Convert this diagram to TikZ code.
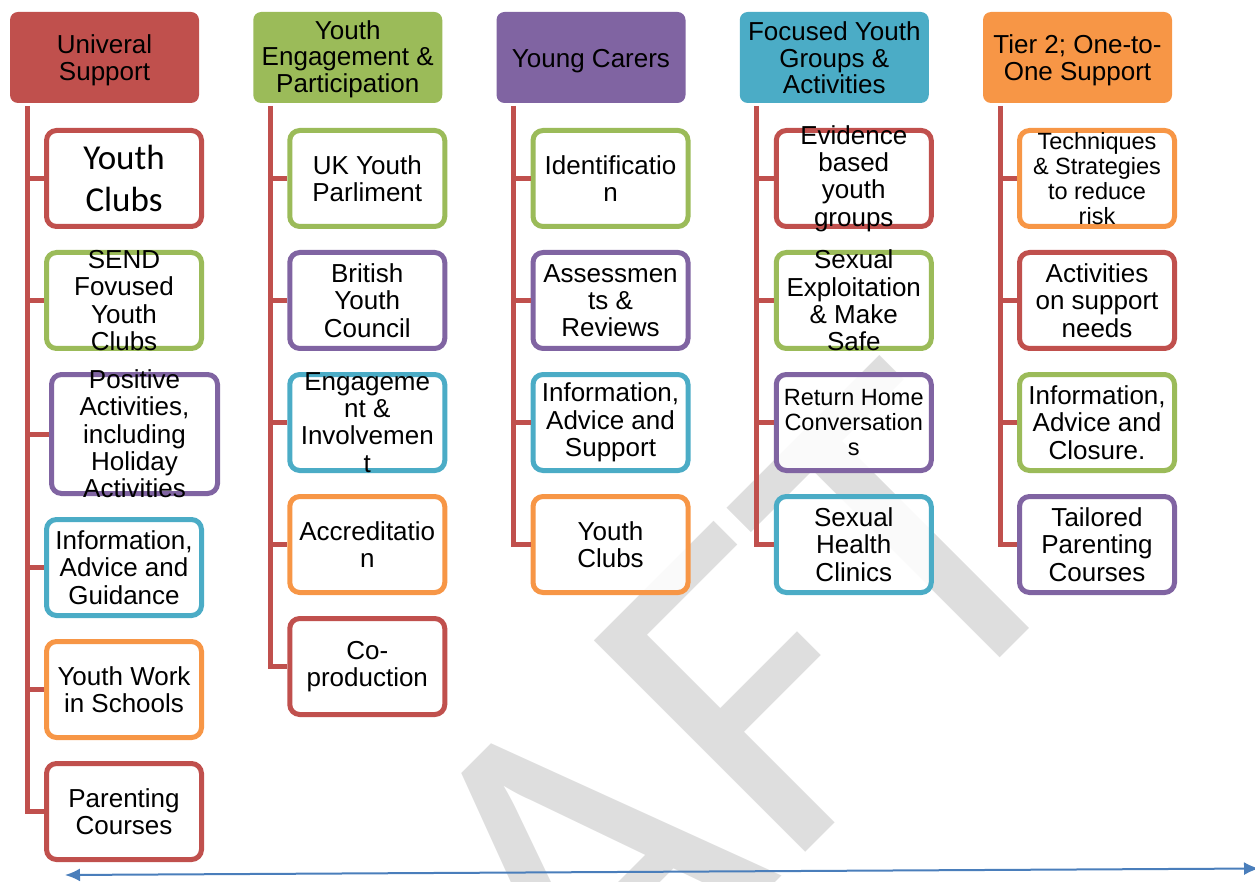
\documentclass[tikz,border=0pt]{standalone}
\usepackage{fontspec}
\setmainfont{Liberation Sans}
\newfontfamily\carlito{Carlito}
\usepackage{tikz}
\usetikzlibrary{positioning}
\usetikzlibrary{arrows.meta}

\definecolor{redc}{HTML}{C0504D}
\definecolor{greenc}{HTML}{9BBB59}
\definecolor{purplec}{HTML}{8064A2}
\definecolor{bluec}{HTML}{4BACC6}
\definecolor{orangec}{HTML}{F79646}
\definecolor{spanc}{HTML}{4A7EBB}
\definecolor{markgray}{RGB}{222,222,222}

\tikzset{
	header/.style={fill=#1, rounded corners=8pt,
		minimum width=189pt, minimum height=91pt,
		inner sep=0pt, outer sep=0pt},
	headtext/.style={align=center, inner sep=0pt,
		font=\fontsize{26}{26.5}\selectfont},
	item/.style={draw=#1, line width=5pt, rounded corners=10pt,
		fill=white, fill opacity=0.88,
		minimum width=155pt, minimum height=96pt, inner sep=0pt},
	itemtext/.style={align=center, inner sep=0pt,
		font=\fontsize{26}{27.3}\selectfont},
	smalltext/.style={align=center, inner sep=0pt,
		font=\fontsize{23.5}{25}\selectfont},
	bigtext/.style={align=center, inner sep=0pt,
		font=\carlito\fontsize{35}{42}\selectfont},
	trunk/.style={draw=redc, line width=5pt},
}

\begin{document}
\begin{tikzpicture}[x=1pt, y=-1pt]
\useasboundingbox (0,0) rectangle (1255,882);

% Watermark
\node [anchor=base west, rotate=45, inner sep=0pt, text=markgray,
	font=\carlito\fontsize{466}{466}\selectfont
] (draft_mark) at (211,1447) {DRAFT};

% Univeral support
\node [header=redc] (universal_support) at (104.5,57.5) {};
\node [headtext, yshift=-3pt] (universal_support_text) at (universal_support) {Univeral\\Support};

\node [item=redc,
	below right = 25pt and 34pt of universal_support.south west
] (youth_clubs) {};
\node [bigtext] (youth_clubs_text) at (youth_clubs) {Youth\\Clubs};

\node [item=greenc,
	below = 21pt of youth_clubs
] (send_clubs) {};
\node [itemtext] (send_clubs_text) at (send_clubs) {SEND\\Fovused\\Youth\\Clubs};

\node [item=purplec,
	minimum width=166pt,
	minimum height=119pt,
	below = 21pt of send_clubs,
	xshift=10.5pt
] (positive_activities) {};
\node [itemtext] (positive_activities_text) at (positive_activities) {Positive\\Activities,\\including\\Holiday\\Activities};

\node [item=bluec,
	below = 21pt of positive_activities,
	xshift=-10.5pt
] (info_guidance) {};
\node [itemtext] (info_guidance_text) at (info_guidance) {Information,\\Advice and\\Guidance};

\node [item=orangec,
	below = 21pt of info_guidance
] (youth_work) {};
\node [itemtext] (youth_work_text) at (youth_work) {Youth Work\\in Schools};

\node [item=redc,
	below = 21pt of youth_work
] (parenting_courses) {};
\node [itemtext] (parenting_courses_text) at (parenting_courses) {Parenting\\Courses};

% Youth engagement and participation
\node [header=greenc,
	right = 54.25pt of universal_support
] (youth_engagement) {};
\node [headtext, yshift=-1.5pt] (youth_engagement_text) at (youth_engagement) {Youth\\Engagement \&\\Participation};

\node [item=greenc,
	below right = 25pt and 34pt of youth_engagement.south west
] (uk_parliament) {};
\node [itemtext] (uk_parliament_text) at (uk_parliament) {UK Youth\\Parliment};

\node [item=purplec,
	below = 21pt of uk_parliament
] (british_council) {};
\node [itemtext] (british_council_text) at (british_council) {British\\Youth\\Council};

\node [item=bluec,
	below = 21pt of british_council
] (involvement) {};
\node [itemtext] (involvement_text) at (involvement) {Engageme\\nt \&\\Involvemen\\t};

\node [item=orangec,
	below = 21pt of involvement
] (accreditation) {};
\node [itemtext] (accreditation_text) at (accreditation) {Accreditatio\\n};

\node [item=redc,
	below = 21pt of accreditation
] (coproduction) {};
\node [itemtext] (coproduction_text) at (coproduction) {Co-\\production};

% Young carers
\node [header=purplec,
	right = 54.25pt of youth_engagement
] (young_carers) {};
\node [headtext, yshift=-4pt] (young_carers_text) at (young_carers) {Young Carers};

\node [item=greenc,
	below right = 25pt and 34pt of young_carers.south west
] (identification) {};
\node [itemtext] (identification_text) at (identification) {Identificatio\\n};

\node [item=purplec,
	below = 21pt of identification
] (assessments) {};
\node [itemtext] (assessments_text) at (assessments) {Assessmen\\ts \&\\Reviews};

\node [item=bluec,
	below = 21pt of assessments
] (info_support) {};
\node [itemtext] (info_support_text) at (info_support) {Information,\\Advice and\\Support};

\node [item=orangec,
	below = 21pt of info_support
] (carers_clubs) {};
\node [itemtext] (carers_clubs_text) at (carers_clubs) {Youth\\Clubs};

% Focused youth groups
\node [header=bluec,
	right = 54.25pt of young_carers
] (focused_groups) {};
\node [headtext, yshift=-0.5pt] (focused_groups_text) at (focused_groups) {Focused Youth\\Groups \&\\Activities};

\node [item=redc,
	below right = 25pt and 34pt of focused_groups.south west
] (evidence_groups) {};
\node [itemtext] (evidence_groups_text) at (evidence_groups) {Evidence\\based\\youth\\groups};

\node [item=greenc,
	below = 21pt of evidence_groups
] (exploitation) {};
\node [itemtext] (exploitation_text) at (exploitation) {Sexual\\Exploitation\\\& Make\\Safe};

\node [item=purplec,
	below = 21pt of exploitation
] (return_home) {};
\node [smalltext] (return_home_text) at (return_home) {Return Home\\Conversation\\s};

\node [item=bluec,
	below = 21pt of return_home
] (health_clinics) {};
\node [itemtext] (health_clinics_text) at (health_clinics) {Sexual\\Health\\Clinics};

% Tier 2 one-to-one
\node [header=orangec,
	right = 54.25pt of focused_groups
] (tier_two) {};
\node [headtext, yshift=-3pt] (tier_two_text) at (tier_two) {Tier 2; One-to-\\One Support};

\node [item=orangec,
	below right = 25pt and 34pt of tier_two.south west
] (techniques) {};
\node [smalltext] (techniques_text) at (techniques) {Techniques\\\& Strategies\\to reduce\\risk};

\node [item=redc,
	below = 21pt of techniques
] (support_needs) {};
\node [itemtext] (support_needs_text) at (support_needs) {Activities\\on support\\needs};

\node [item=greenc,
	below = 21pt of support_needs
] (info_closure) {};
\node [itemtext] (info_closure_text) at (info_closure) {Information,\\Advice and\\Closure.};

\node [item=purplec,
	below = 21pt of info_closure
] (tailored_parenting) {};
\node [itemtext] (tailored_parenting_text) at (tailored_parenting) {Tailored\\Parenting\\Courses};

% Trunk lines
\coordinate (universal_trunk) at ([xshift=17pt, yshift=-3pt] universal_support.south west);
\coordinate (engagement_trunk) at ([xshift=17pt, yshift=-3pt] youth_engagement.south west);
\coordinate (carers_trunk) at ([xshift=17pt, yshift=-3pt] young_carers.south west);
\coordinate (focused_trunk) at ([xshift=17pt, yshift=-3pt] focused_groups.south west);
\coordinate (tier_trunk) at ([xshift=17pt, yshift=-3pt] tier_two.south west);

\draw[trunk] (universal_trunk) |- (parenting_courses.west);
\draw[trunk] (universal_trunk |- youth_clubs.west) -- (youth_clubs.west);
\draw[trunk] (universal_trunk |- send_clubs.west) -- (send_clubs.west);
\draw[trunk] (universal_trunk |- positive_activities.west) -- (positive_activities.west);
\draw[trunk] (universal_trunk |- info_guidance.west) -- (info_guidance.west);
\draw[trunk] (universal_trunk |- youth_work.west) -- (youth_work.west);

\draw[trunk] (engagement_trunk) |- (coproduction.west);
\draw[trunk] (engagement_trunk |- uk_parliament.west) -- (uk_parliament.west);
\draw[trunk] (engagement_trunk |- british_council.west) -- (british_council.west);
\draw[trunk] (engagement_trunk |- involvement.west) -- (involvement.west);
\draw[trunk] (engagement_trunk |- accreditation.west) -- (accreditation.west);

\draw[trunk] (carers_trunk) |- (carers_clubs.west);
\draw[trunk] (carers_trunk |- identification.west) -- (identification.west);
\draw[trunk] (carers_trunk |- assessments.west) -- (assessments.west);
\draw[trunk] (carers_trunk |- info_support.west) -- (info_support.west);

\draw[trunk] (focused_trunk) |- (health_clinics.west);
\draw[trunk] (focused_trunk |- evidence_groups.west) -- (evidence_groups.west);
\draw[trunk] (focused_trunk |- exploitation.west) -- (exploitation.west);
\draw[trunk] (focused_trunk |- return_home.west) -- (return_home.west);

\draw[trunk] (tier_trunk) |- (tailored_parenting.west);
\draw[trunk] (tier_trunk |- techniques.west) -- (techniques.west);
\draw[trunk] (tier_trunk |- support_needs.west) -- (support_needs.west);
\draw[trunk] (tier_trunk |- info_closure.west) -- (info_closure.west);

% Span arrow
\coordinate (span_left) at (65,875);
\coordinate (span_right) at (1259,868.5);
\draw[spanc, line width=2pt, {Latex[length=15pt,width=13pt]}-{Latex[length=15pt,width=13pt]}] (span_left) -- (span_right);

\end{tikzpicture}
\end{document}
